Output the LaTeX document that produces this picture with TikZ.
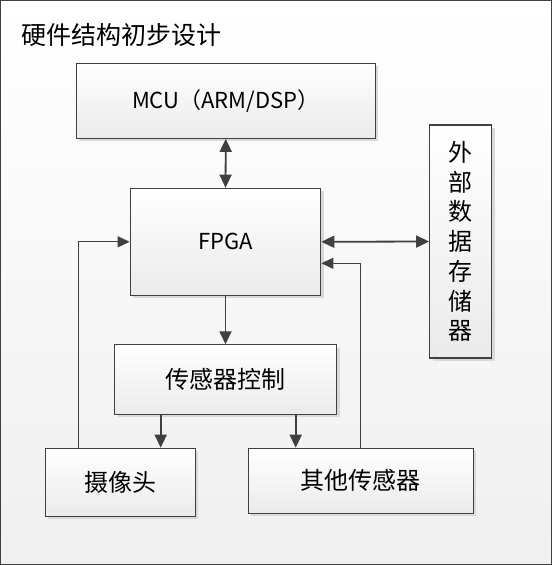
\documentclass[tikz,border=0pt]{standalone}
\usepackage{fontspec}
\setmainfont{Noto Sans CJK SC}
\usetikzlibrary{arrows.meta,shadows}
\definecolor{lc}{HTML}{404040}
\definecolor{shc}{HTML}{D9D9D9}
\begin{document}
\begin{tikzpicture}[x=1pt,y=-1pt,
  box/.style={draw=lc, line width=1.2pt, top color=white, bottom color=black!8,
    inner sep=0pt, drop shadow={shadow xshift=3pt, shadow yshift=-3pt, fill=shc, opacity=1}},
  cjk/.style={font=\fontsize{24}{29.7}\selectfont},
  lat/.style={font=\fontsize{22}{26}\selectfont},
  arr/.style={draw=lc, line width=1.8pt, -{Triangle[length=13pt,width=12pt]}},
  dbl/.style={draw=lc, line width=1.8pt, {Triangle[length=13pt,width=12pt]}-{Triangle[length=13pt,width=12pt]}},
  fb/.style={draw=lc, line width=1.2pt, -{Triangle[length=12pt,width=11pt]}}]
\useasboundingbox (0,0) rectangle (552,565);
\path[draw=lc, line width=1pt, top color=white, bottom color=black!6] (0.5,0.5) rectangle (551.5,564);
\node[anchor=west, font=\fontsize{25}{30}\selectfont] (title) at (18,35) {硬件结构初步设计};
\node[box, lat, minimum width=299pt, minimum height=75pt] (mcu) at (225.8,100.8) {MCU（ARM/DSP）};
\node[box, lat, minimum width=190.5pt, minimum height=107pt] (fpga) at (225.5,241.8) {FPGA};
\node[box, cjk, align=center, minimum width=62pt, minimum height=233pt] (store) at (460.7,241.5) {外\\部\\数\\据\\存\\储\\器};
\node[box, cjk, minimum width=222pt, minimum height=69.5pt] (ctrl) at (225.5,379.6) {传感器控制};
\node[box, cjk, minimum width=150pt, minimum height=68pt] (cam) at (120.3,482.3) {摄像头};
\node[box, cjk, minimum width=225pt, minimum height=65pt] (other) at (360.8,480.8) {其他传感器};
\coordinate (a1) at (160.7,0);
\coordinate (a2) at (295.7,0);
\coordinate (v1) at (78.3,0);
\coordinate (v2) at (360.7,0);
\coordinate (h2) at (0,263.3);
\draw[dbl] (mcu.south) -- (fpga.north);
\draw[arr] (fpga.south) -- (ctrl.north);
\draw[dbl] (fpga.east) -- (store.west);
\draw[arr] (ctrl.south -| a1) -- (cam.north -| a1);
\draw[arr] (ctrl.south -| a2) -- (other.north -| a2);
\draw[fb] (cam.north -| v1) |- (fpga.west);
\draw[fb] (other.north -| v2) |- (fpga.east |- h2);
\end{tikzpicture}
\end{document}
